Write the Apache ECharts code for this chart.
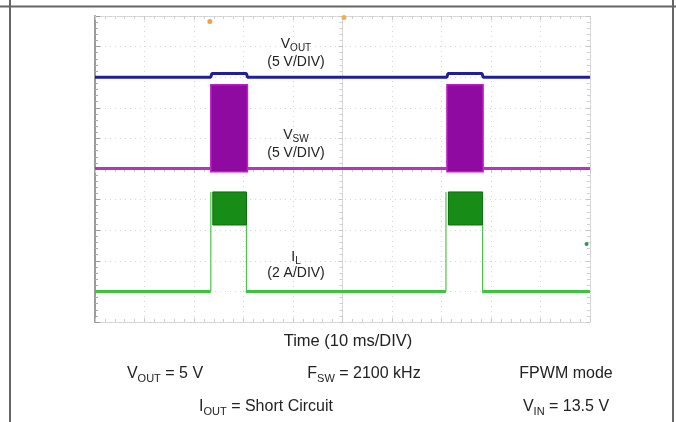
<!DOCTYPE html>
<html>
<head>
<meta charset="utf-8">
<script src="https://cdn.jsdelivr.net/npm/echarts@6/dist/echarts.min.js"></script>
<style>
  html, body { margin: 0; padding: 0; background: #fff; }
  #chart { width: 676px; height: 422px; }
</style>
</head>
<body>
<div id="chart"></div>
<script>
// all values in scope divisions, 0 = screen centre (10 x 10 divisions)
const voutTrace = [[-5, 3.0], [-2.66, 3.0], [-2.64, 3.12], [-1.94, 3.12], [-1.92, 3.0],
  [2.11, 3.0], [2.13, 3.12], [2.82, 3.12], [2.84, 3.0], [5, 3.0]];
const vswTrace = [[-5, 0.02], [-2.66, 0.02], '-', [-1.92, 0.02], [2.11, 0.02], '-', [2.84, 0.02], [5, 0.02]];
// burst envelopes: [start, end, low, high]
const vswBursts = [[-2.66, -1.92, -0.09, 2.75], [2.11, 2.84, -0.09, 2.75]];
const ilTrace = [[-5, -4.0], [-2.66, -4.0], '-', [-1.93, -4.0], [2.09, -4.0], '-', [2.84, -4.0], [5, -4.0]];
const ilEdges = [[-2.66, -4.0], [-2.66, -0.75], '-', [-1.94, -1.83], [-1.94, -4.06], '-',
  [2.09, -4.0], [2.09, -0.75], '-', [2.83, -1.83], [2.83, -4.06]];
const ilBursts = [[-2.62, -1.94, -1.83, -0.75], [2.14, 2.83, -1.83, -0.75]];

const chart = echarts.init(document.getElementById('chart'));

// dotted scope graticule
function scopeAxis(extra) {
  return Object.assign({
    type: 'value',
    min: -5,
    max: 5,
    interval: 1,
    axisLabel: { show: false },
    splitLine: { show: false },
    axisTick: { show: true, inside: true, length: 4, lineStyle: { color: '#c8c8c8' } },
    minorTick: { show: true, splitNumber: 5, length: 3, lineStyle: { color: '#cfcfcf' } },
    axisLine: { show: true, onZero: false, lineStyle: { color: '#d0d0d0', type: 'dotted', width: 1 } }
  }, extra);
}
const gridLine = { show: true, lineStyle: { color: '#d6d6d6', type: [1, 4], width: 1 } };

function renderBurst(params, api) {
  const p0 = api.coord([api.value(0), api.value(3)]);
  const p1 = api.coord([api.value(1), api.value(2)]);
  return {
    type: 'rect',
    shape: { x: p0[0], y: p0[1], width: p1[0] - p0[0], height: p1[1] - p0[1] },
    style: api.style()
  };
}

const font = 'Liberation Sans, Arial, sans-serif';
function label(x, y, text, size) {
  return {
    type: 'text', x: x, y: y, z: 100,
    style: {
      text: text,
      align: 'center',
      verticalAlign: 'middle',
      fill: '#222',
      font: size + 'px ' + font,
      rich: {
        m: { fontSize: size, fontFamily: font, lineHeight: size + 4, fill: '#222' },
        s: { fontSize: Math.round(size * 0.68), fontFamily: font, lineHeight: 10, verticalAlign: 'bottom', fill: '#222' }
      }
    }
  };
}

const options = {
  animation: false,
  grid: { left: 95, right: 86, top: 16, bottom: 100 },
  xAxis: [
    scopeAxis({ position: 'bottom', splitLine: gridLine }),
    scopeAxis({ position: 'top' }),
    scopeAxis({ axisLine: { show: true, onZero: true, onZeroAxisIndex: 0, lineStyle: { color: '#d0d0d0', type: 'dotted' } } })
  ],
  yAxis: [
    scopeAxis({
      position: 'left',
      splitLine: gridLine,
      axisLine: { show: true, onZero: false, lineStyle: { color: '#9a9a9a', width: 2 } },
      axisTick: { show: true, inside: true, length: 5, lineStyle: { color: '#999' } },
      minorTick: { show: true, splitNumber: 5, length: 3, lineStyle: { color: '#aaa' } }
    }),
    scopeAxis({ position: 'right' }),
    scopeAxis({ axisLine: { show: true, onZero: true, onZeroAxisIndex: 0, lineStyle: { color: '#d0d0d0', type: 'dotted' } } })
  ],
  series: [
    {
      name: 'VOUT', type: 'line', data: voutTrace, symbol: 'none', z: 5,
      lineStyle: { color: '#1f1f9e', width: 3 },
      markPoint: {
        symbol: 'circle', symbolSize: 5, silent: true,
        label: { show: false },
        data: [
          { coord: [-2.68, 4.82], itemStyle: { color: '#f0a040' } },
          { coord: [0.03, 4.95], itemStyle: { color: '#f0b050' } }
        ]
      }
    },
    {
      name: 'VSW', type: 'line', data: vswTrace, symbol: 'none', z: 4,
      lineStyle: { color: '#b832c4', width: 3 }
    },
    {
      name: 'VSW burst', type: 'custom', renderItem: renderBurst, data: vswBursts, z: 4,
      encode: { x: [0, 1], y: [2, 3] },
      itemStyle: { color: '#8e0aa0', borderColor: '#c21cc8', borderWidth: 1.5 }
    },
    {
      name: 'IL', type: 'line', data: ilTrace, symbol: 'none', z: 3,
      lineStyle: { color: '#3cc43c', width: 3 },
      markPoint: {
        symbol: 'circle', symbolSize: 4, silent: true,
        label: { show: false },
        data: [{ coord: [4.93, -2.45], itemStyle: { color: '#2a9a4a' } }]
      }
    },
    {
      name: 'IL edges', type: 'line', data: ilEdges, symbol: 'none', z: 3,
      lineStyle: { color: '#4cc44c', width: 1.2 }
    },
    {
      name: 'IL burst', type: 'custom', renderItem: renderBurst, data: ilBursts, z: 3,
      encode: { x: [0, 1], y: [2, 3] },
      itemStyle: { color: '#178c17', borderColor: '#0c6e0c', borderWidth: 1 }
    }
  ],
  graphic: [
    // outer frame
    { type: 'line', shape: { x1: 0, y1: 6.5, x2: 676, y2: 6.5 }, style: { stroke: '#666', lineWidth: 2 } },
    { type: 'line', shape: { x1: 10, y1: 0, x2: 10, y2: 422 }, style: { stroke: '#666', lineWidth: 2 } },
    { type: 'line', shape: { x1: 673, y1: 0, x2: 673, y2: 422 }, style: { stroke: '#666', lineWidth: 2 } },
    // trace captions
    label(296, 44, '{m|V}{s|OUT}', 14),
    label(296, 62, '{m|(5 V/DIV)}', 14),
    label(296, 135, '{m|V}{s|SW}', 14),
    label(296, 153, '{m|(5 V/DIV)}', 14),
    label(296, 257, '{m|I}{s|L}', 14),
    label(296, 273, '{m|(2 A/DIV)}', 14),
    // conditions
    label(348, 341, '{m|Time (10 ms/DIV)}', 16.5),
    label(165, 374, '{m|V}{s|OUT}{m| = 5 V}', 16),
    label(364, 374, '{m|F}{s|SW}{m| = 2100 kHz}', 16),
    label(566, 374, '{m|FPWM mode}', 16),
    label(266, 407, '{m|I}{s|OUT}{m| = Short Circuit}', 16),
    label(566, 407, '{m|V}{s|IN}{m| = 13.5 V}', 16)
  ]
};

chart.setOption(options);
</script>
</body>
</html>
